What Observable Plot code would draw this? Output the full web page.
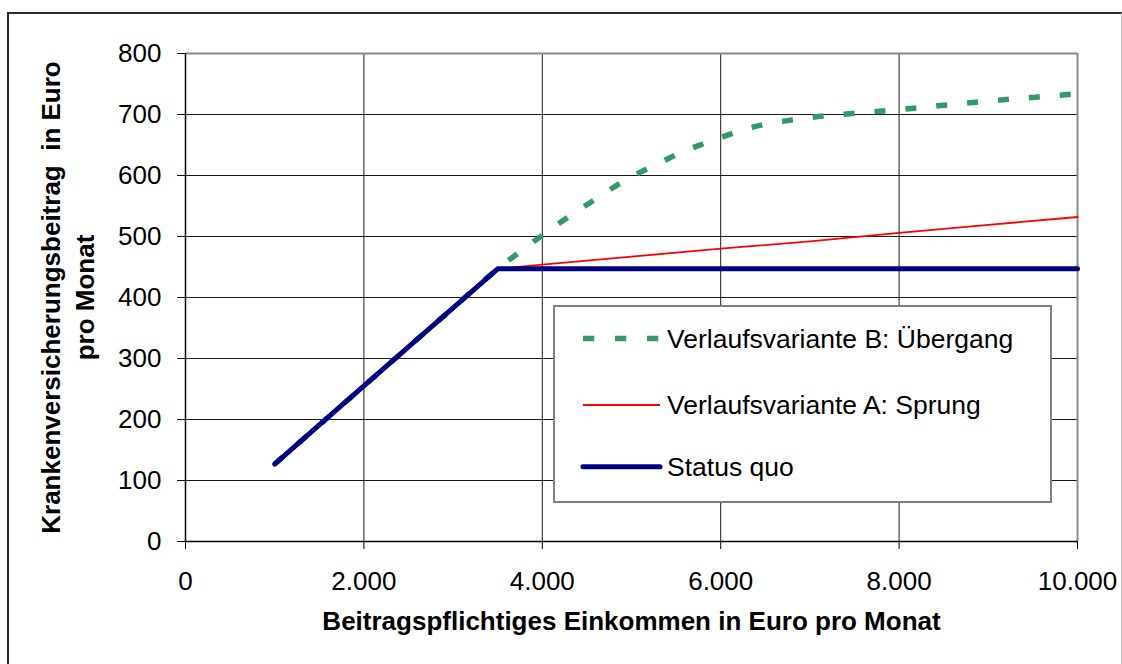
<!DOCTYPE html>
<html>
<head>
<meta charset="utf-8">
<script src="https://cdn.jsdelivr.net/npm/d3@7"></script>
<script src="https://cdn.jsdelivr.net/npm/@observablehq/plot@0.6"></script>
<style>
  html, body { margin: 0; padding: 0; background: #fff; }
  #wrap { position: relative; width: 1122px; height: 664px; overflow: hidden; font-family: "Liberation Sans", Arial, sans-serif; }
  #chart { position: absolute; left: 0; top: 0; }
  #frame { position: absolute; left: 7px; top: 12px; width: 1112px; height: 700px;
           border-left: 2px solid #2b2b2b; border-top: 2px solid #2b2b2b; border-right: 1px solid #c8c8c8; pointer-events: none; }
  #legend { position: absolute; left: 553px; top: 305px; }
</style>
</head>
<body>
<div id="wrap">
  <div id="chart"></div>
  <div id="frame"></div>
  <svg id="legend" width="499" height="198"></svg>
</div>
<script>
// ---- data ----
const sqIncome   = [1000, 1500, 2000, 2500, 3000, 3500, 4000, 5000, 6000, 7000, 8000, 9000, 10000];
const sqBeitrag  = [127, 191, 255, 319, 383, 447, 447, 447, 447, 447, 447, 447, 447];

const aIncome    = [1000, 1500, 2000, 2500, 3000, 3500, 4000, 5000, 6000, 7000, 8000, 9000, 10000];
const aBeitrag   = [127, 191, 255, 319, 383, 447, 454, 467, 480, 492, 506, 519, 532];

const bIncome    = [1000, 1500, 2000, 2500, 3000, 3500, 3750, 4000, 4250, 4500, 4750, 5000, 5250, 5500, 5750,
                    6000, 6250, 6500, 6750, 7000, 7500, 8000, 8500, 9000, 9500, 10000];
const bBeitrag   = [127, 191, 255, 319, 383, 447, 475, 502, 528, 552, 576, 598, 616, 634, 649,
                    662, 675, 684, 690, 695, 702, 708, 715, 722, 728, 734];

const seriesNames  = ["Verlaufsvariante B: Übergang", "Verlaufsvariante A: Sprung", "Status quo"];
const seriesColors = ["#339966", "#ff0000", "#000080"];

const xTicks      = [0, 2000, 4000, 6000, 8000, 10000];
const xTickLabels = ["0", "2.000", "4.000", "6.000", "8.000", "10.000"];
const yTicks      = [0, 100, 200, 300, 400, 500, 600, 700, 800];
const yTickLabels = ["0", "100", "200", "300", "400", "500", "600", "700", "800"];

const xTitle = "Beitragspflichtiges Einkommen in Euro pro Monat";
const yTitle = "Krankenversicherungsbeitrag \u00a0in Euro\npro Monat";

// ---- tables ----
const toRows = (xs, ys) => xs.map((x, i) => ({x, y: ys[i]}));
const rowsB  = toRows(bIncome, bBeitrag);
const rowsA  = toRows(aIncome, aBeitrag);
const rowsSQ = toRows(sqIncome, sqBeitrag);

const chart = Plot.plot({
  width: 1122,
  height: 664,
  marginLeft: 185,
  marginRight: 45,
  marginTop: 53,
  marginBottom: 123,
  x: {domain: [0, 10000]},
  y: {domain: [0, 800]},
  style: {fontFamily: "'Liberation Sans', Arial, sans-serif", fontSize: "26px", color: "#000", background: "transparent", overflow: "visible"},
  marks: [
    Plot.gridY(yTicks, {stroke: "#1a1a1a", strokeOpacity: 1, strokeWidth: 1}),
    Plot.gridX(xTicks, {stroke: "#1a1a1a", strokeOpacity: 1, strokeWidth: 1}),
    Plot.ruleY([800], {stroke: "#8a8a8a", strokeWidth: 2}),
    Plot.ruleX([10000], {stroke: "#8a8a8a", strokeWidth: 2}),
    Plot.ruleX([0], {stroke: "#000", strokeWidth: 1.5}),
    Plot.ruleY([0], {stroke: "#000", strokeWidth: 1.5}),
    Plot.axisY(yTicks, {tickSize: 8, tickPadding: 16, fontSize: 26, label: null,
      tickFormat: d => yTickLabels[yTicks.indexOf(d)]}),
    Plot.axisX(xTicks, {tickSize: 8, tickPadding: 22, fontSize: 26, label: null,
      tickFormat: d => xTickLabels[xTicks.indexOf(d)]}),
    Plot.line(rowsB, {x: "x", y: "y", stroke: seriesColors[0], strokeWidth: 5.5,
      strokeDasharray: "11,20", strokeLinecap: "butt", curve: "monotone-x"}),
    Plot.line(rowsA, {x: "x", y: "y", stroke: seriesColors[1], strokeWidth: 1.8}),
    Plot.line(rowsSQ, {x: "x", y: "y", stroke: seriesColors[2], strokeWidth: 5,
      strokeLinecap: "round", strokeLinejoin: "round"}),
    Plot.text([yTitle], {text: d => d, frameAnchor: "left", rotate: -90, dx: -119,
      fontWeight: "bold", fontSize: 26, lineHeight: 1.3, textAnchor: "middle"}),
    Plot.text([xTitle], {text: d => d, frameAnchor: "bottom", dy: 88,
      fontWeight: "bold", fontSize: 26, textAnchor: "middle"})
  ]
});
document.getElementById("chart").appendChild(chart);

// ---- legend ----
const lg = d3.select("#legend");
lg.append("rect").attr("x", 1).attr("y", 1).attr("width", 497).attr("height", 196)
  .attr("fill", "#fff").attr("stroke", "#808080").attr("stroke-width", 2);
const rowY   = [33.5, 100, 161.7];
const textY  = [42.5, 108.5, 170.5];
const widths = [5.5, 1.8, 5];
const dashes = ["11.3,20.7", null, null];
const caps   = ["butt", "butt", "round"];
seriesNames.forEach((name, i) => {
  lg.append("line").attr("x1", 30).attr("x2", i === 0 ? 106 : 107).attr("y1", rowY[i]).attr("y2", rowY[i])
    .attr("stroke", seriesColors[i]).attr("stroke-width", widths[i])
    .attr("stroke-dasharray", dashes[i]).attr("stroke-linecap", caps[i]);
  lg.append("text").attr("x", 114).attr("y", textY[i])
    .attr("font-family", "'Liberation Sans', Arial, sans-serif").attr("font-size", 26.5)
    .attr("fill", "#000").text(name);
});
</script>
</body>
</html>
